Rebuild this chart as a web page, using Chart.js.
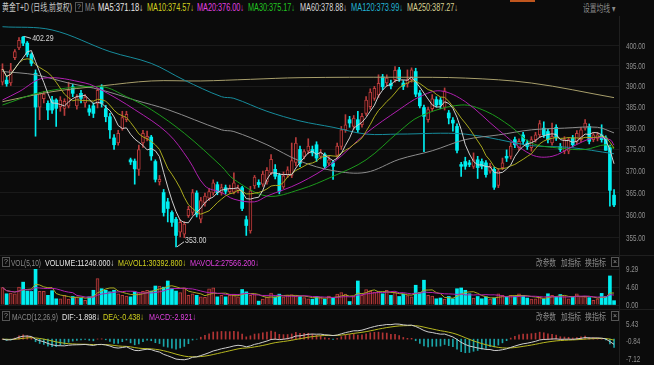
<!DOCTYPE html>
<html><head><meta charset="utf-8">
<script src="https://cdn.jsdelivr.net/npm/chart.js@4.4.1/dist/chart.umd.min.js"></script>
<style>
html,body{margin:0;padding:0;background:#0b0b0b;width:654px;height:365px;overflow:hidden;}
body{position:relative;font-family:"Liberation Sans","Noto Sans CJK SC",sans-serif;}
.t{position:absolute;font-size:10px;line-height:11px;white-space:nowrap;z-index:5;transform-origin:left center;}
.s{font-size:9.5px;}
.c{font-family:"Noto Sans CJK SC",sans-serif;}
canvas{position:absolute;left:0;}
.ln{position:absolute;background:#1f1f1f;z-index:4;}
.q{position:absolute;width:6px;height:8px;border:1px solid #555;color:#999;font-size:7px;line-height:8px;text-align:center;z-index:5;font-family:"Liberation Sans",sans-serif;}
</style></head><body>
<canvas id="cMain" width="654" height="240" style="top:16px"></canvas>
<canvas id="cVol" width="654" height="50" style="top:258px"></canvas>
<canvas id="cMacd" width="654" height="53" style="top:312px"></canvas>

<div class="ln" style="left:619px;top:16px;width:1px;height:349px"></div>
<div class="ln" style="left:0;top:255px;width:654px;height:1px"></div>
<div class="ln" style="left:0;top:309px;width:654px;height:1px"></div>
<div style="position:absolute;left:510px;top:0;width:25px;height:2px;background:#c0561e"></div>

<div class="t" data-w="70" style="left:2px;top:2px;color:#c8c8c8">黄金T+D (日线,前复权)</div>
<div class="q" style="left:75px;top:2px">?</div>
<div class="t" data-w="10" style="left:85px;top:2px;color:#8a8a8a">MA</div>
<div class="t" data-w="45" style="left:98px;top:2px;color:#e6e6e6">MA5:371.18↓</div>
<div class="t" data-w="47" style="left:147px;top:2px;color:#d2d21e">MA10:374.57↓</div>
<div class="t" data-w="47" style="left:197px;top:2px;color:#e040e0">MA20:376.00↓</div>
<div class="t" data-w="47" style="left:248px;top:2px;color:#22c422">MA30:375.17↓</div>
<div class="t" data-w="47" style="left:300px;top:2px;color:#d6d6d6">MA60:378.88↓</div>
<div class="t" data-w="52" style="left:351px;top:2px;color:#22b4d4">MA120:373.99↓</div>
<div class="t" data-w="51" style="left:407px;top:2px;color:#d6d090">MA250:387.27↓</div>
<div class="t c" data-w="32" style="left:583px;top:2px;color:#8a8a8a">设置均线 ▾</div>

<div class="q" style="left:2px;top:257px">?</div>
<div class="t s" data-w="30" style="left:11px;top:257px;color:#8a8a8a">VOL(5,10)</div>
<div class="t s" data-w="69" style="left:45px;top:257px;color:#e6e6e6">VOLUME:11240.000↓</div>
<div class="t s" data-w="68" style="left:118px;top:257px;color:#d2d21e">MAVOL1:30392.800↓</div>
<div class="t s" data-w="69" style="left:190px;top:257px;color:#e040e0">MAVOL2:27566.200↓</div>
<div class="t s c" data-w="20" style="left:536px;top:257px;color:#8a8a8a">改参数</div>
<div class="t s c" data-w="20" style="left:561px;top:257px;color:#8a8a8a">加指标</div>
<div class="t s c" data-w="21" style="left:585px;top:257px;color:#8a8a8a">换指标</div>
<div class="q" style="left:611px;top:257px">×</div>

<div class="q" style="left:2px;top:311px">?</div>
<div class="t s" data-w="46" style="left:12px;top:311px;color:#8a8a8a">MACD(12,26,9)</div>
<div class="t s" data-w="38" style="left:62px;top:311px;color:#e6e6e6">DIF:-1.898↓</div>
<div class="t s" data-w="41" style="left:103px;top:311px;color:#d2d21e">DEA:-0.438↓</div>
<div class="t s" data-w="47" style="left:149px;top:311px;color:#e040e0">MACD:-2.921↓</div>
<div class="t s c" data-w="20" style="left:536px;top:311px;color:#8a8a8a">改参数</div>
<div class="t s c" data-w="20" style="left:561px;top:311px;color:#8a8a8a">加指标</div>
<div class="t s c" data-w="21" style="left:585px;top:311px;color:#8a8a8a">换指标</div>
<div class="q" style="left:611px;top:311px">×</div>

<script>
// fit header texts to the widths they take in the reference
document.querySelectorAll('[data-w]').forEach(el => {
  const w = el.getBoundingClientRect().width;
  el.style.transform = 'scaleX(' + (Number(el.dataset.w) / w) + ')';
});

// ---- daily OHLC ----
const open = [391.0,391.5,390.8,397.0,399.4,402.1,400.6,397.8,393.2,385.0,387.0,385.9,386.7,386.7,385.1,384.7,385.2,389.9,385.3,388.3,
386.0,384.6,385.3,385.9,389.9,384.6,382.7,377.7,376.5,379.9,382.0,372.6,372.3,370.4,376.5,377.6,377.9,372.2,367.5,365.1,
363.0,360.6,359.1,356.2,355.8,359.9,360.6,365.0,359.1,362.8,363.8,365.0,366.9,365.1,366.2,365.3,365.2,365.6,366.2,359.0,
356.5,366.6,367.4,367.0,367.5,369.6,370.4,369.0,366.4,369.1,369.0,372.0,375.0,373.4,374.6,375.0,376.1,373.4,373.8,371.8,
371.9,373.6,375.7,379.6,382.0,380.4,382.0,380.8,383.5,385.1,387.1,387.9,392.3,390.8,390.7,391.6,394.0,390.8,390.6,391.6,
393.6,388.4,384.9,382.0,384.6,386.8,386.7,384.9,383.6,381.9,380.4,371.5,372.2,371.9,371.1,372.6,372.2,371.9,370.0,370.4,
366.7,370.8,373.4,373.4,377.3,375.4,378.4,376.5,375.4,377.3,378.4,380.0,379.2,376.5,380.2,375.7,374.6,374.6,377.7,376.9,
377.3,380.0,380.4,377.3,377.6,378.4,377.7,375.4,364.5];
const high = [395.5,392.5,395.6,399.0,402.0,402.29,401.0,398.2,394.0,388.5,388.8,386.5,387.6,387.0,387.5,387.0,391.0,390.5,388.0,389.0,
388.0,385.5,386.0,389.5,390.4,385.4,383.5,378.5,379.5,384.0,384.0,373.0,372.8,376.0,379.5,379.3,378.3,372.6,369.0,365.8,
363.8,361.0,359.5,359.0,358.6,362.0,365.8,365.5,364.0,365.0,366.0,368.0,367.5,367.0,366.8,366.8,369.6,366.8,366.5,359.8,
366.5,369.0,368.0,370.0,370.8,373.8,371.5,369.5,369.8,371.0,376.5,377.8,375.8,375.0,377.5,375.8,376.8,375.0,374.2,373.4,
372.5,376.5,380.4,383.2,382.8,383.0,384.0,383.5,387.5,389.4,390.0,392.8,392.9,392.8,391.5,394.8,394.6,391.4,394.0,394.5,
394.4,389.0,385.5,385.0,388.0,387.5,387.3,389.6,384.2,382.5,381.0,372.0,373.2,372.5,374.2,373.4,372.8,372.4,371.8,370.9,
370.6,373.0,374.9,376.6,377.9,377.5,379.0,377.2,378.0,379.0,381.8,381.5,379.8,381.2,380.8,376.4,378.0,377.8,378.3,379.4,
380.2,382.0,381.0,379.0,379.0,380.8,378.2,376.0,365.8];
const low = [390.3,390.0,390.2,396.5,399.0,400.0,397.2,395.0,378.1,382.0,386.0,382.0,383.5,380.4,384.0,383.0,384.8,387.5,384.5,386.0,
385.0,383.0,382.5,384.8,385.0,381.5,377.6,375.0,376.0,379.5,381.5,371.5,367.0,369.0,375.5,377.0,372.5,367.5,366.8,359.8,
358.5,357.5,353.0,355.2,355.0,359.5,360.0,359.6,358.3,362.0,363.3,364.5,364.6,364.5,364.8,364.9,364.8,365.0,361.0,355.5,
356.0,366.0,366.3,366.5,367.0,369.2,368.2,364.8,366.0,368.5,368.5,371.2,371.0,372.8,374.0,373.5,372.2,372.8,370.5,371.3,
368.1,373.0,375.0,379.0,380.2,379.8,379.0,380.2,383.0,384.5,386.6,387.3,389.2,390.0,389.4,391.0,391.2,389.2,389.8,391.0,
387.5,384.8,374.5,381.4,384.0,385.0,384.6,384.3,381.0,379.3,374.2,368.8,370.4,371.0,370.6,368.3,370.5,368.6,369.5,365.8,
366.2,370.3,372.2,372.8,375.4,374.8,376.2,375.0,374.6,376.7,377.8,377.8,376.5,376.0,377.1,374.5,374.0,374.0,375.6,376.3,
376.8,379.5,376.3,376.8,377.0,376.7,374.8,362.0,361.9];
const close = [394.2,390.6,394.0,398.5,401.3,400.6,397.8,395.6,385.0,388.2,388.1,384.3,384.3,384.7,386.7,386.4,389.1,388.3,387.3,387.1,
387.4,383.8,383.5,389.0,385.9,382.7,379.6,376.1,378.8,382.5,383.3,372.1,370.5,375.0,378.8,378.1,373.5,368.1,368.1,360.6,
361.5,358.4,355.5,358.4,358.0,361.3,365.1,360.2,363.3,364.3,365.3,367.3,365.1,366.2,365.4,366.0,367.3,366.1,361.5,357.7,
365.5,368.6,366.9,369.3,370.2,372.7,368.8,365.4,368.9,370.3,372.4,376.5,371.8,374.5,375.8,374.2,373.0,374.2,371.1,372.6,
371.1,375.8,379.6,380.8,381.2,382.4,379.6,382.8,386.7,388.6,389.5,390.7,389.9,392.0,390.1,393.9,391.8,390.0,391.6,394.0,
388.1,385.3,382.8,384.4,387.0,385.5,385.6,388.9,382.4,381.2,374.8,371.1,371.1,371.5,372.6,370.8,371.1,369.2,371.1,366.3,
370.0,371.9,373.0,375.8,376.1,376.9,376.9,375.7,377.3,378.4,381.1,378.4,377.3,378.1,377.7,375.0,377.3,377.3,376.1,378.8,
379.6,381.2,376.9,378.4,378.4,377.3,374.8,365.6,362.3];
// volume, in units of 10 000
const volume = [4.5,2.9,3.1,2.9,4.6,5.9,3.6,3.5,9.29,3.5,3.5,2.5,3.7,1.6,1.6,2.5,1.5,2.2,2.1,1.8,
1.2,2.1,3.8,6.8,4.2,3.8,3.4,3.8,2.9,2.5,2.3,2.1,3.4,3.2,3.5,3.8,3.6,4.9,4.9,4.6,
6.2,4.2,3.6,3.2,4.4,2.5,2.9,2.5,2.1,2.0,4.2,4.4,2.1,2.5,2.1,2.5,2.8,2.1,4.0,3.4,
2.5,2.7,1.0,1.5,2.1,3.1,2.1,2.8,2.1,2.5,2.7,2.3,2.2,1.9,1.6,1.5,2.2,2.0,1.5,2.3,
1.8,2.8,3.2,2.8,0.9,2.2,6.2,2.5,4.0,3.5,3.3,3.6,2.9,3.8,2.5,3.2,2.2,2.8,2.4,2.1,
5.1,3.2,6.4,2.5,2.3,1.6,1.8,1.5,2.2,1.6,4.2,4.4,3.8,2.9,1.8,2.2,1.6,2.1,1.5,1.8,
2.9,2.5,2.1,2.5,2.2,2.9,2.5,1.8,1.5,1.6,2.0,1.5,2.9,2.5,2.1,2.7,2.2,1.6,2.1,2.9,
2.2,2.1,1.9,1.2,1.6,3.0,2.2,7.5,1.12];

// longer moving averages at sample candles
const ma20At  = [0,4,10,20,24,32,40,45,49,53,56,61,64,72,80,88,96,101,106,112,120,128,133,138,143,147,148];
const ma20Val = [386.7,388.7,392.0,390.8,389.1,384.4,378.8,372.7,366.6,365.1,363.6,363.0,364.3,367.3,371.9,378.8,384.4,387.5,388.9,386.3,379.6,373.8,373.4,375.7,377.7,377.3,376.00];
const ma30At  = [0,10,24,30,36,44,53,56,64,72,80,88,96,101,111,117,123,128,135,141,146,148];
const ma30Val = [385.5,388.7,389.9,387.5,384.4,378.8,371.1,368.1,364.3,365.8,368.8,372.6,379.2,382.8,385.5,384.0,380.4,376.5,375.3,375.0,376.1,375.17];
const ma60At  = [0,8,16,24,32,40,53,56,64,72,80,88,96,104,112,120,128,136,144,148];
const ma60Val = [393.6,392.8,390.8,389.1,386.7,384.4,379.6,379.2,376.1,372.3,370.1,369.7,372.7,374.7,377.3,378.4,379.6,380.0,380.2,378.88];
const ma120At  = [0,12,26,36,44,53,56,64,72,80,88,96,112,128,137,148];
const ma120Val = [404.7,403.9,398.5,395.6,391.5,387.5,387.1,384.0,381.7,380.2,378.6,378.6,378.6,375.9,375.5,373.99];
const ma250At  = [0,12,24,36,48,60,72,96,112,128,148];
const ma250Val = [386.3,388.7,390.1,391.3,391.3,391.7,392.1,392.2,392.0,390.8,387.27];

// axis tick labels
const priceTicks = [355,360,365,370,375,380,385,390,395,400];
const volTicks = [0,4.60,9.29];
const macdTicks = [-7.12,-0.84,5.43];

// ---- derived indicators ----
const N = close.length;
const idx = close.map((_, i) => i);
const isUp = close.map((c, i) => c >= open[i]);
function sma(arr, n) {
  return arr.map((_, i) => { const s = Math.max(0, i - n + 1); let t = 0; for (let k = s; k <= i; k++) t += arr[k]; return t / (i - s + 1); });
}
function ema(arr, n) {
  const k = 2 / (n + 1); const out = [];
  arr.forEach((v, i) => out.push(i === 0 ? v : v * k + out[i - 1] * (1 - k)));
  return out;
}
const ma5 = sma(close, 5), ma10 = sma(close, 10);
const mavol1 = sma(volume, 5), mavol2 = sma(volume, 10);
const e12 = ema(close, 12), e26 = ema(close, 26);
const dif = e12.map((v, i) => v - e26[i]);
const dea = ema(dif, 9);
const macd = dif.map((v, i) => 2 * (v - dea[i]));
const pts = (xs, ys) => xs.map((x, i) => ({ x, y: ys[i] }));
const ser = (ys) => ys.map((y, i) => ({ x: i, y }));

const UP_FILL = '#1e0808', UP_LINE = '#b83c3c', DN = '#00eef0';
const xScale = { type: 'linear', min: -0.6, max: N + 0.2, display: false, offset: false };
function yAxis(extra, ticksArr) {
  return Object.assign({
    position: 'right',
    grid: { color: '#1a1a1a', drawTicks: false, lineWidth: 1 },
    border: { display: false },
    ticks: { display: false },
    afterBuildTicks: (s) => { s.ticks = ticksArr.map(v => ({ value: v })); },
    afterFit: (s) => { s.width = 35; s.paddingTop = 0; s.paddingBottom = 0; }
  }, extra);
}
// right-hand axis labels, condensed like the reference
const axisLabels = {
  id: 'axisLabels',
  afterDraw(chart) {
    const { ctx } = chart; const s = chart.scales.y;
    ctx.save();
    ctx.fillStyle = '#909090'; ctx.font = '9px "Liberation Sans", sans-serif';
    ctx.textBaseline = 'middle'; ctx.textAlign = 'left';
    s.ticks.forEach(t => {
      const y = s.getPixelForValue(t.value);
      ctx.save(); ctx.translate(626, y); ctx.scale(0.7, 1);
      ctx.fillText(Number(t.value).toFixed(2), 0, 0.5); ctx.restore();
    });
    ctx.restore();
  }
};
const base = { responsive: false, animation: false, events: [], devicePixelRatio: 1,
  plugins: { legend: { display: false }, tooltip: { enabled: false } } };
function line(data, color, order, tension) {
  return { type: 'line', data, borderColor: color, borderWidth: 1, pointRadius: 0, tension: tension || 0, order };
}

// annotation for highest high / lowest low
const extremes = {
  id: 'extremes',
  afterDatasetsDraw(chart) {
    const { ctx, scales: { x, y } } = chart;
    let hi = 0, lo = 0;
    high.forEach((v, i) => { if (v > high[hi]) hi = i; });
    low.forEach((v, i) => { if (v < low[lo]) lo = i; });
    ctx.save();
    ctx.strokeStyle = '#cfcfcf'; ctx.fillStyle = '#d8d8d8'; ctx.lineWidth = 1;
    ctx.font = '9px "Liberation Sans", sans-serif'; ctx.textBaseline = 'middle'; ctx.textAlign = 'left';
    let px = x.getPixelForValue(hi), py = y.getPixelForValue(high[hi]);
    ctx.beginPath(); ctx.moveTo(px + 1, py); ctx.lineTo(px + 8, py + 2); ctx.stroke();
    ctx.save(); ctx.translate(px + 9, py + 2); ctx.scale(0.78, 1); ctx.fillText(high[hi].toFixed(2), 0, 0); ctx.restore();
    px = x.getPixelForValue(lo); py = y.getPixelForValue(low[lo]);
    ctx.beginPath(); ctx.moveTo(px + 1, py); ctx.lineTo(px + 8, py - 5); ctx.stroke();
    ctx.save(); ctx.translate(px + 9, py - 6); ctx.scale(0.78, 1); ctx.fillText(low[lo].toFixed(2), 0, 0); ctx.restore();
    ctx.restore();
  }
};

new Chart(document.getElementById('cMain'), {
  data: { datasets: [
    { type: 'bar', data: idx.map(i => ({ x: i, y: [low[i], high[i]] })), backgroundColor: idx.map(i => isUp[i] ? UP_LINE : DN),
      barThickness: 1, grouped: false, order: 20 },
    { type: 'bar', data: idx.map(i => ({ x: i, y: [open[i], close[i]] })),
      backgroundColor: idx.map(i => isUp[i] ? UP_FILL : DN), borderColor: idx.map(i => isUp[i] ? UP_LINE : DN),
      borderWidth: idx.map(i => isUp[i] ? 1 : 0), borderSkipped: false, minBarLength: 1, barThickness: 3, grouped: false, order: 19 },
    line(pts(ma250At, ma250Val), '#a89f6c', 9, 0.35),
    line(pts(ma120At, ma120Val), '#178c9c', 8, 0.35),
    line(pts(ma60At, ma60Val), '#8c8c8c', 7, 0.35),
    line(pts(ma30At, ma30Val), '#1c9a1c', 6, 0.35),
    line(pts(ma20At, ma20Val), '#b020b0', 5, 0.35),
    line(ser(ma10), '#aaaa1e', 4),
    line(ser(ma5), '#cfcfcf', 3)
  ] },
  options: Object.assign({}, base, {
    layout: { padding: { top: 4, bottom: 6, left: 0, right: 0 } },
    scales: { x: xScale, y: yAxis({ type: 'logarithmic', min: 352.3, max: 406.4 }, priceTicks) }
  }),
  plugins: [extremes, axisLabels]
});

new Chart(document.getElementById('cVol'), {
  data: { datasets: [
    { type: 'bar', data: ser(volume), backgroundColor: idx.map(i => isUp[i] ? '#3a1212' : DN),
      borderColor: idx.map(i => isUp[i] ? UP_LINE : DN), borderWidth: idx.map(i => isUp[i] ? 1 : 0),
      borderSkipped: 'start', barThickness: 3, grouped: false, order: 5 },
    line(ser(mavol1), '#a8a820', 2),
    line(ser(mavol2), '#b020b0', 1)
  ] },
  options: Object.assign({}, base, {
    layout: { padding: { top: 11, bottom: 3, left: 0, right: 0 } },
    scales: { x: xScale, y: yAxis({ type: 'linear', min: 0, max: 9.29 }, volTicks) }
  }),
  plugins: [axisLabels]
});

new Chart(document.getElementById('cMacd'), {
  data: { datasets: [
    { type: 'bar', data: idx.map(i => ({ x: i, y: [0, macd[i]] })), backgroundColor: idx.map(i => macd[i] >= 0 ? '#b03434' : '#1aa4a8'),
      barThickness: 1, grouped: false, order: 5 },
    line(ser(dea), '#b8b820', 2),
    line(ser(dif), '#cfcfcf', 1)
  ] },
  options: Object.assign({}, base, {
    layout: { padding: { top: 8, bottom: 2, left: 0, right: 0 } },
    scales: { x: xScale, y: yAxis({ type: 'linear', min: -8.55, max: 6.86, grid: { display: false } }, macdTicks) }
  }),
  plugins: [axisLabels]
});
</script>
</body></html>
